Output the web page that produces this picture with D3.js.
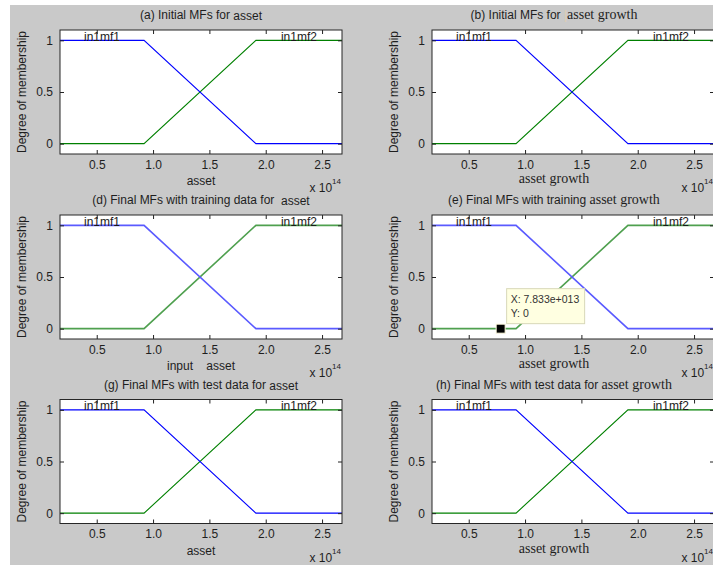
<!DOCTYPE html>
<html>
<head>
<meta charset="utf-8">
<script src="https://cdn.jsdelivr.net/npm/d3@7"></script>
<style>
  body { margin: 0; background: #fff; }
  svg { display: block; font-family: Arial, "Liberation Sans", sans-serif; }
  text { white-space: pre; }
</style>
</head>
<body>
<div id="chart"></div>
<script>
// ---- data (x in units of 10^14) ----
const panelIds = ['a', 'b', 'd', 'e', 'g', 'h'];
const titleLeads = [
  '(a) Initial MFs for ',
  '(b) Initial MFs for ',
  '(d) Final MFs with training data for  ',
  '(e) Final MFs with training ',
  '(g) Final MFs with test data for ',
  '(h) Final MFs with test data for '
];
const varNames = ['asset', 'asset growth', 'asset', 'asset growth', 'asset', 'asset growth'];
const xLabels = ['asset', 'asset growth', 'input    asset', 'asset growth', 'asset', 'asset growth'];
const xDomain = [0.174, 2.677];
const yDomain = [-0.1, 1.1];
const xTicks = [0.5, 1, 1.5, 2, 2.5];
const yTicks = [0, 0.5, 1];
const mfNames = ['in1mf1', 'in1mf2'];
const mfX = [0.174, 0.92, 1.913, 2.677];
const mf1Y = [1, 1, 0, 0];
const mf2Y = [0, 0, 1, 1];
const tipPanel = 'e';
const tipX = 0.7833;
const tipY = 0;
const tipLines = ['X: 7.833e+013', 'Y: 0'];

// ---- layout ----
const W = 713, H = 566;
const colX = [60, 432], rowY = [30, 215, 399.5];
const pw = 282, ph = 124;
const labelCx = [201, 554];
const sans = 'Arial, "Liberation Sans", sans-serif';
const serif = '"Liberation Serif", "Times New Roman", serif';

const svg = d3.select('#chart').append('svg')
  .attr('width', W)
  .attr('height', H);

svg.append('rect')
  .attr('x', 10).attr('y', 5)
  .attr('width', W - 10).attr('height', 560)
  .attr('fill', '#c9c9c9');

const defs = svg.append('defs');

panelIds.forEach((id, i) => {
  const col = i % 2, row = Math.floor(i / 2);
  const x0 = colX[col], y0 = rowY[row];
  const isGrowth = col === 1;
  const x = d3.scaleLinear().domain(xDomain).range([x0, x0 + pw]);
  const y = d3.scaleLinear().domain(yDomain).range([y0 + ph, y0]);
  const g = svg.append('g').attr('class', 'panel-' + id);

  defs.append('clipPath').attr('id', 'clip-' + id)
    .append('rect')
    .attr('x', x0).attr('y', y0)
    .attr('width', pw).attr('height', ph);

  g.append('rect')
    .attr('x', x0).attr('y', y0)
    .attr('width', pw).attr('height', ph)
    .attr('fill', '#fff');

  const plot = g.append('g').attr('clip-path', `url(#clip-${id})`);

  // membership functions (row 2 rendered softer/thicker in the source)
  const soft = row === 1;
  const line = d3.line().x(d => x(d[0])).y(d => y(d[1]));
  plot.append('path')
    .datum(d3.zip(mfX, mf2Y))
    .attr('d', line)
    .attr('fill', 'none')
    .attr('stroke', soft ? '#4fa04f' : '#008000')
    .attr('stroke-width', soft ? 1.6 : 1.1);
  plot.append('path')
    .datum(d3.zip(mfX, mf1Y))
    .attr('d', line)
    .attr('fill', 'none')
    .attr('stroke', soft ? '#5a5aff' : '#0000ff')
    .attr('stroke-width', soft ? 1.6 : 1.1);

  // MF names centred on each plateau
  const plateaus = [[mfX[0], mfX[1]], [mfX[2], mfX[3]]];
  plot.selectAll('text.mf')
    .data(mfNames)
    .join('text')
    .attr('class', 'mf')
    .attr('x', (d, k) => x((plateaus[k][0] + plateaus[k][1]) / 2))
    .attr('y', y(1) + 0.4)
    .attr('text-anchor', 'middle')
    .attr('font-size', 12)
    .attr('fill', '#1a1a1a')
    .text(d => d);

  // axes: ticks inward on all four sides
  const bottom = g.append('g')
    .attr('transform', `translate(0,${y0 + ph})`)
    .call(d3.axisBottom(x).tickValues(xTicks).tickSizeInner(-4).tickSizeOuter(0).tickPadding(6));
  const left = g.append('g')
    .attr('transform', `translate(${x0},0)`)
    .call(d3.axisLeft(y).tickValues(yTicks).tickSizeInner(-4).tickSizeOuter(0).tickPadding(7)
      .tickFormat(d3.format('')));
  g.append('g')
    .attr('transform', `translate(0,${y0})`)
    .call(d3.axisTop(x).tickValues(xTicks).tickSizeInner(-4).tickSizeOuter(0).tickFormat(''));
  g.append('g')
    .attr('transform', `translate(${x0 + pw},0)`)
    .call(d3.axisRight(y).tickValues(yTicks).tickSizeInner(-4).tickSizeOuter(0).tickFormat(''));

  g.selectAll('.domain').remove();
  g.selectAll('.tick line').attr('stroke', '#222');
  g.selectAll('.tick text')
    .attr('font-family', sans)
    .attr('font-size', 12)
    .attr('fill', '#1e1e1e');

  g.append('rect')
    .attr('x', x0).attr('y', y0)
    .attr('width', pw).attr('height', ph)
    .attr('fill', 'none')
    .attr('stroke', '#262626')
    .attr('stroke-width', 1);

  // title
  const title = g.append('text')
    .attr('x', labelCx[col])
    .attr('y', y0 - 11)
    .attr('text-anchor', 'middle')
    .attr('fill', '#1e1e1e');
  title.append('tspan')
    .attr('font-family', sans).attr('font-size', 12)
    .text(titleLeads[i]);
  if (id === 'b') {
    title.append('tspan')
      .attr('font-family', sans).attr('font-size', 12)
      .attr('fill', '#e2cfb0')
      .text('|');
  }
  title.append('tspan')
    .attr('font-family', isGrowth ? serif : sans)
    .attr('font-size', isGrowth ? 14 : 12)
    .attr('dy', isGrowth ? 0 : 1)
    .text(varNames[i]);

  // x label
  g.append('text')
    .attr('x', labelCx[col])
    .attr('y', y0 + ph + (isGrowth ? 29 : 31))
    .attr('text-anchor', 'middle')
    .attr('font-family', isGrowth ? serif : sans)
    .attr('font-size', isGrowth ? 14 : 12)
    .attr('fill', '#1e1e1e')
    .text(xLabels[i]);

  // exponent
  const ex = g.append('text')
    .attr('x', x0 + pw - 1)
    .attr('y', y0 + ph + 38)
    .attr('text-anchor', 'end')
    .attr('font-size', 12)
    .attr('fill', '#1e1e1e');
  ex.append('tspan').text('x 10');
  ex.append('tspan').attr('font-size', 8).attr('dy', -8).text('14');

  // y label
  g.append('text')
    .attr('transform', `translate(${x0 - 34.5},${y0 + ph / 2}) rotate(-90)`)
    .attr('text-anchor', 'middle')
    .attr('font-size', 12)
    .attr('fill', '#1e1e1e')
    .text('Degree of membership');

  // data tip
  if (id === tipPanel) {
    const mx = x(tipX), my = y(tipY);
    const tip = g.append('g');
    tip.append('rect')
      .attr('x', mx + 6).attr('y', my - 40)
      .attr('width', 78).attr('height', 35)
      .attr('fill', '#ffffe1')
      .attr('stroke', '#d8d8b8');
    tip.selectAll('text')
      .data(tipLines)
      .join('text')
      .attr('x', mx + 10)
      .attr('y', (d, k) => my - 26 + k * 14.3)
      .attr('font-size', 10.5)
      .attr('fill', '#333')
      .text(d => d);
    tip.append('rect')
      .attr('x', mx - 4.5).attr('y', my - 4.5)
      .attr('width', 9).attr('height', 9)
      .attr('fill', '#000')
      .attr('stroke', '#fffbe0')
      .attr('stroke-width', 1);
  }
});
</script>
</body>
</html>
